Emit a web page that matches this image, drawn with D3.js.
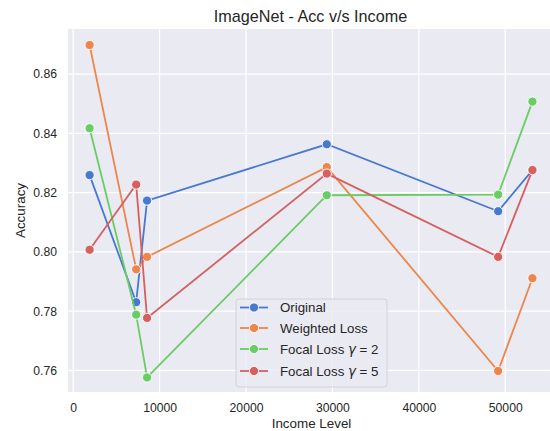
<!DOCTYPE html>
<html>
<head>
<meta charset="utf-8">
<script src="https://cdn.jsdelivr.net/npm/d3@7"></script>
<style>
body{margin:0;background:#fff;}
text{font-family:"Liberation Sans",Arial,sans-serif;fill:#262626;}
</style>
</head>
<body>
<svg id="chart" width="550" height="431"></svg>
<script>
const incomes = [1900, 7290, 8550, 29350, 49180, 53150];
const seriesNames = ["Original", "Weighted Loss", "Focal Loss \u03b3 = 2", "Focal Loss \u03b3 = 5"];
const original = [0.8259, 0.7830, 0.8173, 0.8363, 0.8137, 0.8276];
const weighted = [0.8698, 0.7941, 0.7983, 0.8286, 0.7598, 0.7911];
const focal2 = [0.8417, 0.7788, 0.7576, 0.8191, 0.8193, 0.8507];
const focal5 = [0.8007, 0.8227, 0.7777, 0.8264, 0.7983, 0.8276];
const colors = ["#4878d0", "#ee854a", "#6acc64", "#d65f5f"];
const xTicks = [0, 10000, 20000, 30000, 40000, 50000];
const yTicks = [0.76, 0.78, 0.80, 0.82, 0.84, 0.86];

const svg = d3.select("#chart");
const m = {left: 68, right: 550, top: 29, bottom: 392};
const x = d3.scaleLinear().domain([-600, 55180]).range([m.left, m.right]);
const y = d3.scaleLinear().domain([0.7527, 0.8752]).range([m.bottom, m.top]);

svg.append("rect").attr("x", m.left).attr("y", m.top)
  .attr("width", m.right - m.left).attr("height", m.bottom - m.top).attr("fill", "#eaeaf2");

svg.append("clipPath").attr("id", "c").append("rect")
  .attr("x", m.left).attr("y", m.top).attr("width", m.right - m.left).attr("height", m.bottom - m.top);

// grid
svg.append("g").selectAll("line").data(xTicks).join("line")
  .attr("x1", d => x(d)).attr("x2", d => x(d)).attr("y1", m.top).attr("y2", m.bottom)
  .attr("stroke", "#fff").attr("stroke-width", 1.2);
svg.append("g").selectAll("line").data(yTicks).join("line")
  .attr("y1", d => y(d)).attr("y2", d => y(d)).attr("x1", m.left).attr("x2", m.right)
  .attr("stroke", "#fff").attr("stroke-width", 1.2);

// axes
const xAxis = svg.append("g").attr("transform", `translate(0,${m.bottom})`)
  .call(d3.axisBottom(x).tickValues(xTicks).tickFormat(d3.format("d")).tickSize(0).tickPadding(11));
const yAxis = svg.append("g").attr("transform", `translate(${m.left},0)`)
  .call(d3.axisLeft(y).tickValues(yTicks).tickFormat(d3.format(".2f")).tickSize(0).tickPadding(11));
[xAxis, yAxis].forEach(a => {
  a.select(".domain").remove();
  a.selectAll("text").attr("font-size", 12.2).attr("fill", "#262626")
    .attr("font-family", "'Liberation Sans', Arial, sans-serif");
});

// labels
svg.append("text").attr("x", 310.5).attr("y", 21.5).attr("text-anchor", "middle")
  .attr("font-size", 16.2).text("ImageNet - Acc v/s Income");
svg.append("text").attr("x", 311.5).attr("y", 428).attr("text-anchor", "middle")
  .attr("font-size", 13.4).text("Income Level");
svg.append("text").attr("transform", `translate(25,${(m.top + m.bottom) / 2}) rotate(-90)`)
  .attr("text-anchor", "middle").attr("font-size", 13.4).text("Accuracy");

const allSeries = [original, weighted, focal2, focal5];
const line = d3.line().x((d, i) => x(incomes[i])).y(d => y(d));
const plot = svg.append("g").attr("clip-path", "url(#c)");
allSeries.forEach((s, k) => {
  plot.append("path").datum(s).attr("d", line).attr("fill", "none")
    .attr("stroke", colors[k]).attr("stroke-width", 1.8);
  plot.append("g").selectAll("circle").data(s).join("circle")
    .attr("cx", (d, i) => x(incomes[i])).attr("cy", d => y(d)).attr("r", 4.6)
    .attr("fill", colors[k]).attr("stroke", "#fff").attr("stroke-width", 0.9);
});

// legend
const lg = svg.append("g");
lg.append("rect").attr("x", 236).attr("y", 299).attr("width", 151).attr("height", 88)
  .attr("rx", 3).attr("fill", "#eaeaf2").attr("fill-opacity", 0.8)
  .attr("stroke", "#cccccc").attr("stroke-width", 0.8);
const rowsY = [307.5, 328, 349, 371];
seriesNames.forEach((n, k) => {
  const g = lg.append("g");
  g.append("line").attr("x1", 240).attr("x2", 268).attr("y1", rowsY[k]).attr("y2", rowsY[k])
    .attr("stroke", colors[k]).attr("stroke-width", 1.8);
  g.append("circle").attr("cx", 254).attr("cy", rowsY[k]).attr("r", 4.6)
    .attr("fill", colors[k]).attr("stroke", "#fff").attr("stroke-width", 0.9);
  const t = g.append("text").attr("x", 280).attr("y", rowsY[k]).attr("dy", "0.35em")
    .attr("font-size", 13.3);
  const parts = n.split("\u03b3");
  t.append("tspan").text(parts[0]);
  if (parts.length > 1) {
    t.append("tspan").attr("font-family", "'DejaVu Sans', sans-serif")
      .attr("font-style", "italic").text("\u03b3");
    t.append("tspan").text(parts[1]);
  }
});
</script>
</body>
</html>
